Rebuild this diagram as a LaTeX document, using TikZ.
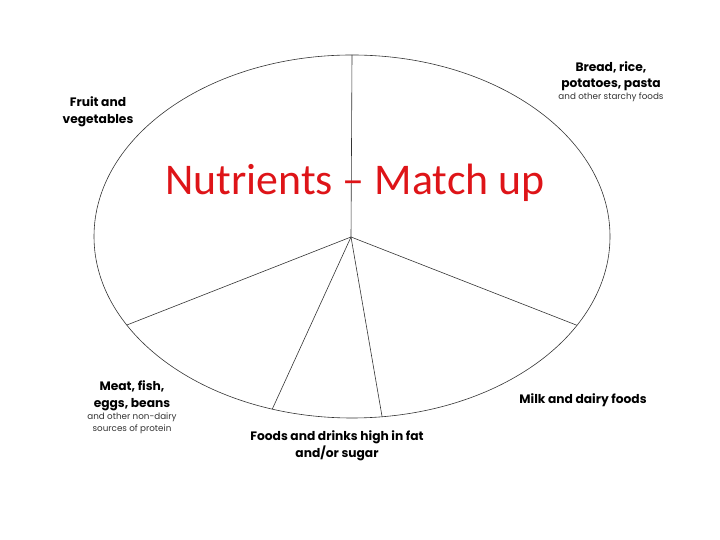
\documentclass[tikz,border=0pt]{standalone}
\usepackage{fontspec}
\usetikzlibrary{calc,positioning}
\newfontfamily\titlefont{Carlito}
\newfontfamily\groupfont{Poppins}
\definecolor{titlered}{RGB}{222,20,24}
\begin{document}
\begin{tikzpicture}[x=1bp,y=1bp,
				group/.style={align=center,font=\groupfont\bfseries\fontsize{12.3}{16.5}\selectfont,inner sep=0pt},
				note/.style={align=center,font=\groupfont\fontsize{8.8}{12}\selectfont,inner sep=0pt,text=black!80},
				spoke/.style={draw=black!80,line width=0.6pt}]
\useasboundingbox (0,0) rectangle (720,540);
\coordinate (c) at (352,303.5);
\draw[spoke] (c) ellipse [x radius=258,y radius=181.5];
% spoke ends on the rim
\coordinate (top) at ($(c)+(90:258 and 181.5)$);
\coordinate (milk) at ($(c)+(-29.3:258 and 181.5)$);
\coordinate (sugar) at ($(c)+(-83.3:258 and 181.5)$);
\coordinate (meat) at ($(c)+(-108:258 and 181.5)$);
\coordinate (fruit) at ($(c)+(-150.8:258 and 181.5)$);
\coordinate (hub) at (351,303);
\foreach \e in {top,milk,sugar,meat,fruit}
	\draw[spoke] (hub) -- (\e);
\node[group] (fruittxt) at (98,428) {Fruit and\\vegetables};
\node[group] (breadtxt) at (611,464) {Bread, rice,\\potatoes, pasta};
\node[note,below=1.5pt of breadtxt] (breadnote) {and other starchy foods};
\node[group] (meattxt) at (132,144) {Meat, fish,\\eggs, beans};
\node[note,below=1.5pt of meattxt] (meatnote) {and other non-dairy\\sources of protein};
\node[group] (sugartxt) at (337,94) {Foods and drinks high in fat\\and/or sugar};
\node[group] (milktxt) at (583,140) {Milk and dairy foods};
\node[text=titlered,font=\titlefont\fontsize{44}{50}\selectfont,inner sep=0pt] (title) at (355,357) {Nutrients – Match up};
\end{tikzpicture}
\end{document}
